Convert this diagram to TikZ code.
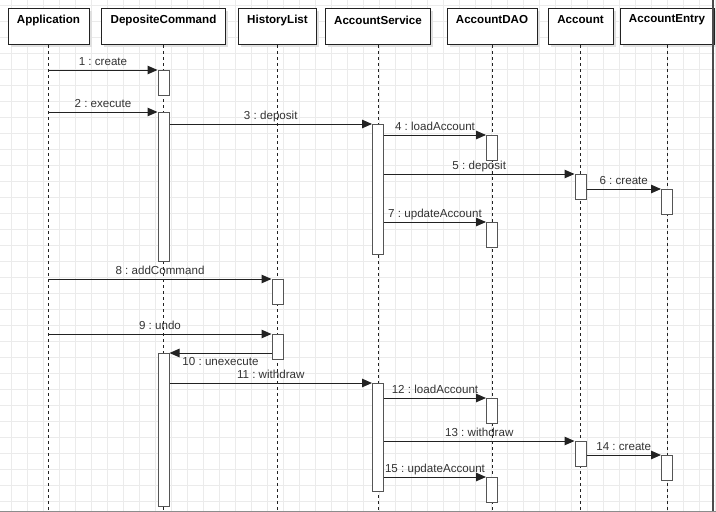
\documentclass[tikz,border=0pt]{standalone}
\usepackage{fontspec}
\setmainfont{Liberation Sans}
\usetikzlibrary{arrows.meta,shadows}
\definecolor{gridc}{HTML}{EBEBEB}
\definecolor{ink}{HTML}{222222}
\definecolor{lbltxt}{HTML}{333333}
\definecolor{actline}{HTML}{555555}
\frenchspacing

\tikzset{
  head/.style={draw=ink, fill=white, line width=1pt, minimum height=36pt,
    inner sep=0pt, anchor=north,
    drop shadow={shadow xshift=2.5pt, shadow yshift=-2.5pt, fill=black!12, opacity=1}},
  headtxt/.style={font=\fontsize{11.6}{13}\selectfont\bfseries, text=black},
  act/.style={draw=actline, fill=white, line width=1pt, minimum width=11pt,
    inner sep=0pt, anchor=north},
  life/.style={draw=ink, line width=1pt, dash pattern=on 3pt off 3pt},
  msg/.style={draw=ink, line width=1pt, -{Triangle[length=10pt,width=8.5pt]}},
  lbl/.style={font=\fontsize{11.6}{13}\selectfont, text=lbltxt, inner sep=0pt, anchor=base},
  lblup/.style={lbl, yshift=4.5pt},
  lbldown/.style={lbl, yshift=-12pt},
}

\begin{document}
\begin{tikzpicture}[x=1pt, y=-1pt]
  \useasboundingbox (0,0) rectangle (716,512);
  \fill[white] (0,0) rectangle (716,512);

  % background grid
  \foreach \i in {0,...,44}
    \draw[gridc, line width=1pt] ({11.8+16*\i},0) -- ++(0,512);
  \foreach \j in {0,...,31}
    \draw[gridc, line width=1pt] (0,{5.5+16*\j}) -- ++(716,0);

  % object headers
  \node[head, minimum width=81pt]  (app) at (48.5,8)  {};
  \node[head, minimum width=124pt] (dc)  at (163.5,8) {};
  \node[head, minimum width=78pt]  (hl)  at (277.5,8) {};
  \node[head, minimum width=105pt] (as)  at (378,8)   {};
  \node[head, minimum width=90pt]  (dao) at (492,8)   {};
  \node[head, minimum width=65pt]  (acc) at (580.5,8) {};
  \node[head, minimum width=94pt]  (ae)  at (667,8)   {};

  \node[headtxt] (appt) at (48.5,20)  {Application};
  \node[headtxt] (dct)  at (163.5,20) {DepositeCommand};
  \node[headtxt] (hlt)  at (277.5,20) {HistoryList};
  \node[headtxt] (ast)  at (378,20)   {AccountService};
  \node[headtxt] (daot) at (492,20)   {AccountDAO};
  \node[headtxt] (acct) at (580.5,20) {Account};
  \node[headtxt] (aet)  at (667,20)   {AccountEntry};

  % lifelines
  \foreach \n in {app,dc,hl,as,dao,acc,ae}
    \draw[life] (\n.south) -- (\n.south |- 0,512);

  % activation bars
  \node[act, minimum height=25pt]  (dc1)  at (163.5,70)  {};
  \node[act, minimum height=149pt] (dc2)  at (163.5,112) {};
  \node[act, minimum height=153pt] (dc3)  at (163.5,353) {};
  \node[act, minimum height=25pt]  (hl1)  at (277.5,279) {};
  \node[act, minimum height=25pt]  (hl2)  at (277.5,334) {};
  \node[act, minimum height=130pt] (as1)  at (378,124)   {};
  \node[act, minimum height=108pt] (as2)  at (378,383)   {};
  \node[act, minimum height=25pt]  (dao1) at (492,135)   {};
  \node[act, minimum height=25pt]  (dao2) at (492,222)   {};
  \node[act, minimum height=25pt]  (dao3) at (492,398)   {};
  \node[act, minimum height=25pt]  (dao4) at (492,477)   {};
  \node[act, minimum height=25pt]  (acc1) at (580.5,174) {};
  \node[act, minimum height=25pt]  (acc2) at (580.5,441) {};
  \node[act, minimum height=25pt]  (ae1)  at (667,189)   {};
  \node[act, minimum height=25pt]  (ae2)  at (667,455)   {};

  % message sources on the Application lifeline
  \coordinate (s1) at (app.south |- dc1.north);
  \coordinate (s2) at (app.south |- dc2.north);
  \coordinate (s8) at (app.south |- hl1.north);
  \coordinate (s9) at (app.south |- hl2.north);

  % messages
  \draw[msg] (s1) -- node[lblup] {1 : create} (dc1.north west);
  \draw[msg] (s2) -- node[lblup] {2 : execute} (dc2.north west);
  \draw[msg] (dc2.east |- as1.north) -- node[lblup] {3 : deposit} (as1.north west);
  \draw[msg] (as1.east |- dao1.north) -- node[lblup] {4 : loadAccount} (dao1.north west);
  \draw[msg] (as1.east |- acc1.north) -- node[lblup] {5 : deposit} (acc1.north west);
  \draw[msg] (acc1.east |- ae1.north) -- node[lblup] {6 : create} (ae1.north west);
  \draw[msg] (as1.east |- dao2.north) -- node[lblup] {7 : updateAccount} (dao2.north west);
  \draw[msg] (s8) -- node[lblup] {8 : addCommand} (hl1.north west);
  \draw[msg] (s9) -- node[lblup] {9 : undo} (hl2.north west);
  \draw[msg] (hl2.west |- dc3.north) -- node[lbldown] {10 : unexecute} (dc3.north east);
  \draw[msg] (dc3.east |- as2.north) -- node[lblup] {11 : withdraw} (as2.north west);
  \draw[msg] (as2.east |- dao3.north) -- node[lblup] {12 : loadAccount} (dao3.north west);
  \draw[msg] (as2.east |- acc2.north) -- node[lblup] {13 : withdraw} (acc2.north west);
  \draw[msg] (acc2.east |- ae2.north) -- node[lblup] {14 : create} (ae2.north west);
  \draw[msg] (as2.east |- dao4.north) -- node[lblup] {15 : updateAccount} (dao4.north west);

  % frame edges
  \draw[black!70, line width=1.2pt] (713,0) -- (713,512);
  \draw[black!45, line width=1pt] (0,511.5) -- (716,511.5);
\end{tikzpicture}
\end{document}
